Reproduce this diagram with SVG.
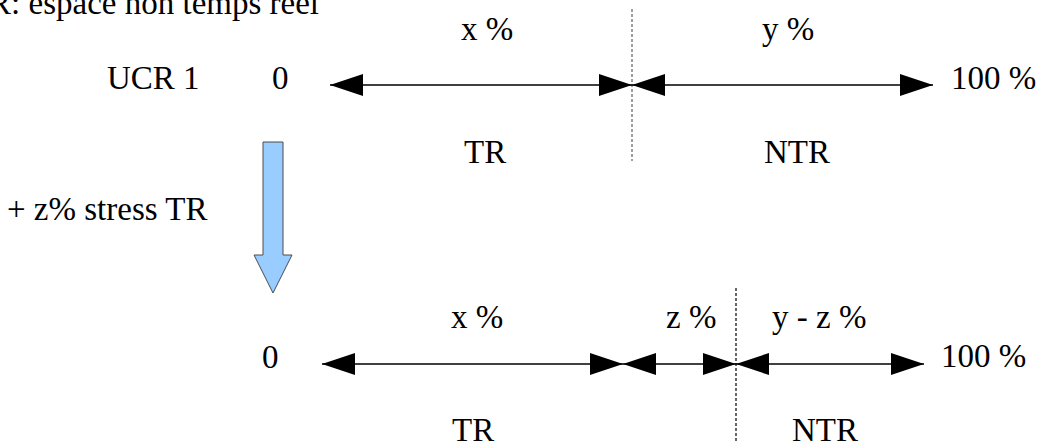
<svg xmlns="http://www.w3.org/2000/svg" width="1042" height="443" viewBox="0 0 1042 443">
  <style>
    text { font-family: 'Liberation Serif', 'DejaVu Serif', serif; font-size: 33px; fill: #000; }
    .span { stroke: #000; stroke-width: 1.5; fill: none; marker-start: url(#head); marker-end: url(#head); }
    .split-gray { stroke: #808080; stroke-width: 1.5; stroke-dasharray: 3 2; }
    .split-black { stroke: #000; stroke-width: 1.2; stroke-dasharray: 3 2; }
    .step { fill: #99ccff; stroke: #4d4d4d; stroke-width: 1; }
  </style>
  <defs>
    <marker id="head" markerUnits="userSpaceOnUse" markerWidth="34" markerHeight="24" refX="33" refY="11" orient="auto-start-reverse" viewBox="0 0 34 24">
      <path d="M0,0 L33,11 L0,22 Z" fill="#000"/>
    </marker>
  </defs>

  <text id="caption" x="319" y="14" text-anchor="end">R: espace non temps reel</text>

  <!-- initial split -->
  <g id="ucr1">
    <text x="107" y="89">UCR 1</text>
    <text x="272" y="89">0</text>
    <text x="951" y="89">100 %</text>
    <text x="461" y="40">x %</text>
    <text x="762" y="40">y %</text>
    <text x="464" y="163">TR</text>
    <text x="764" y="163">NTR</text>
  </g>

  <!-- transition -->
  <g id="stress">
    <polygon class="step" points="263,142 283,142 283,255 292,255 273,293 254,255 263,255"/>
    <text x="7" y="220">+ z% stress TR</text>
  </g>

  <!-- split after stress -->
  <g id="ucr1-stressed">
    <text x="262" y="368">0</text>
    <text x="941" y="367">100 %</text>
    <text x="451" y="328">x %</text>
    <text x="666" y="328">z %</text>
    <text x="772" y="328">y - z %</text>
    <text x="452" y="441">TR</text>
    <text x="792" y="441">NTR</text>
  </g>

  <g id="connectors">
    <line class="split-gray" x1="632" y1="9" x2="632" y2="161"/>
    <line class="span" x1="330" y1="85" x2="632" y2="85"/>
    <line class="span" x1="632" y1="85" x2="933" y2="85"/>

    <line class="split-black" x1="736" y1="288" x2="736" y2="443"/>
    <line class="span" x1="322" y1="364" x2="623" y2="364"/>
    <line class="span" x1="623" y1="364" x2="736" y2="364"/>
    <line class="span" x1="736" y1="364" x2="924" y2="364"/>
  </g>
</svg>
